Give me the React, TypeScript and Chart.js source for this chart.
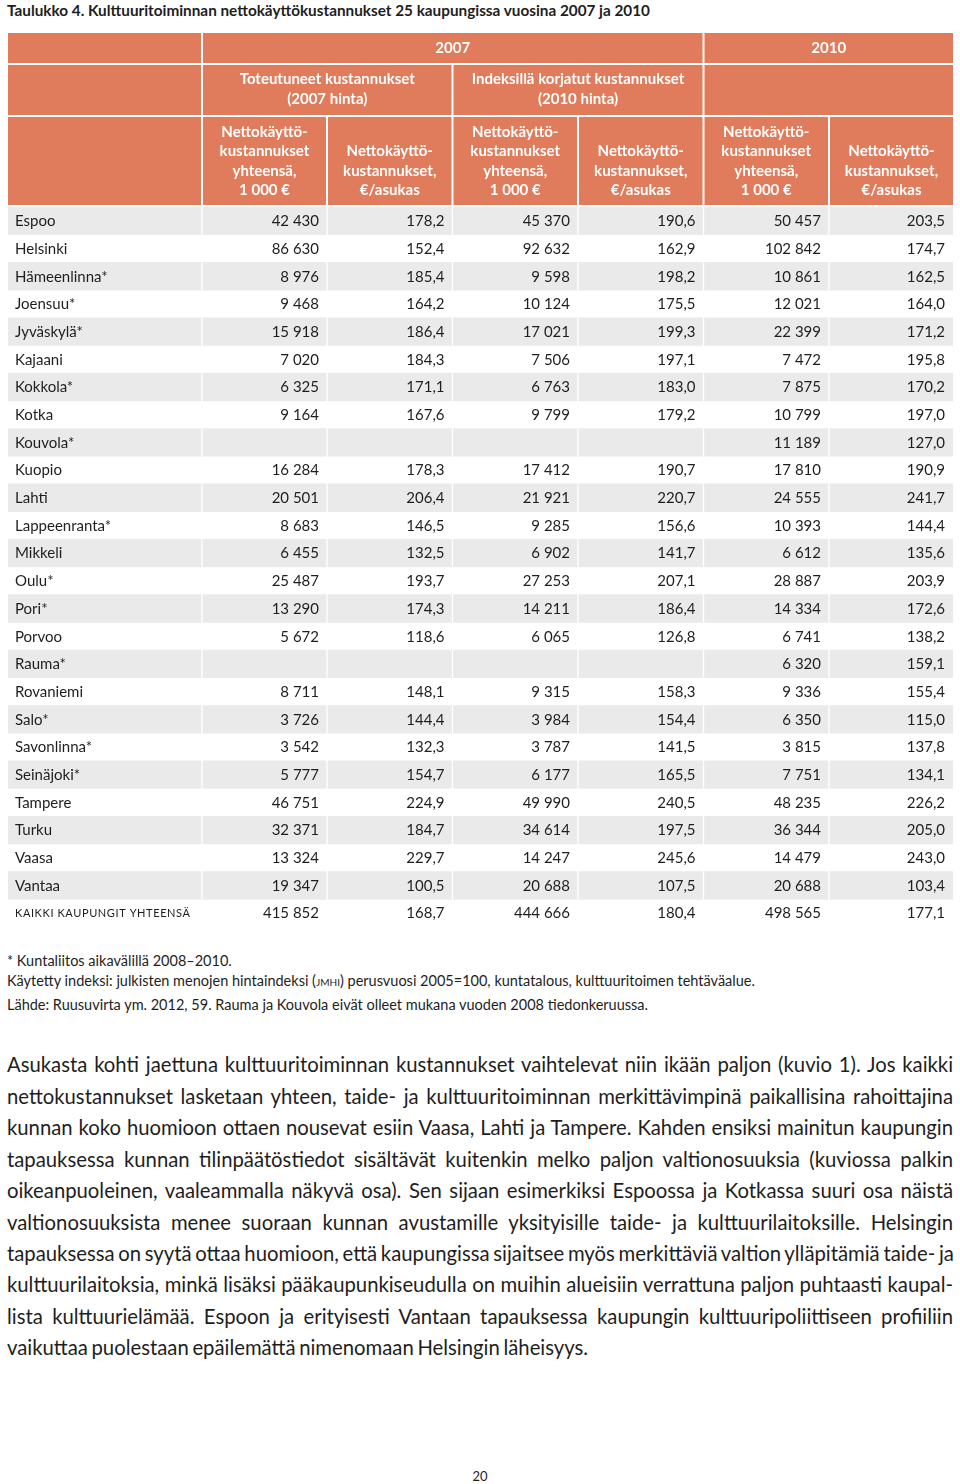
import React, { useEffect, useRef } from "react";
import { Chart, registerables } from "chart.js";

Chart.register(...registerables);

// ---------- data ----------
const cities = [
  "Espoo", "Helsinki", "Hämeenlinna*", "Joensuu*", "Jyväskylä*", "Kajaani", "Kokkola*", "Kotka",
  "Kouvola*", "Kuopio", "Lahti", "Lappeenranta*", "Mikkeli", "Oulu*", "Pori*", "Porvoo", "Rauma*",
  "Rovaniemi", "Salo*", "Savonlinna*", "Seinäjoki*", "Tampere", "Turku", "Vaasa", "Vantaa",
];
const totalLabel = "KAIKKI KAUPUNGIT YHTEENSÄ";

const total2007 = [42430, 86630, 8976, 9468, 15918, 7020, 6325, 9164, null, 16284, 20501, 8683, 6455, 25487, 13290, 5672, null, 8711, 3726, 3542, 5777, 46751, 32371, 13324, 19347];
const perCap2007 = [178.2, 152.4, 185.4, 164.2, 186.4, 184.3, 171.1, 167.6, null, 178.3, 206.4, 146.5, 132.5, 193.7, 174.3, 118.6, null, 148.1, 144.4, 132.3, 154.7, 224.9, 184.7, 229.7, 100.5];
const totalIdx = [45370, 92632, 9598, 10124, 17021, 7506, 6763, 9799, null, 17412, 21921, 9285, 6902, 27253, 14211, 6065, null, 9315, 3984, 3787, 6177, 49990, 34614, 14247, 20688];
const perCapIdx = [190.6, 162.9, 198.2, 175.5, 199.3, 197.1, 183.0, 179.2, null, 190.7, 220.7, 156.6, 141.7, 207.1, 186.4, 126.8, null, 158.3, 154.4, 141.5, 165.5, 240.5, 197.5, 245.6, 107.5];
const total2010 = [50457, 102842, 10861, 12021, 22399, 7472, 7875, 10799, 11189, 17810, 24555, 10393, 6612, 28887, 14334, 6741, 6320, 9336, 6350, 3815, 7751, 48235, 36344, 14479, 20688];
const perCap2010 = [203.5, 174.7, 162.5, 164.0, 171.2, 195.8, 170.2, 197.0, 127.0, 190.9, 241.7, 144.4, 135.6, 203.9, 172.6, 138.2, 159.1, 155.4, 115.0, 137.8, 134.1, 226.2, 205.0, 243.0, 103.4];
const grandTotals = [415852, 168.7, 444666, 180.4, 498565, 177.1];

const yearHeaders = ["2007", "2010"];
const groupHeaders = [["Toteutuneet kustannukset", "(2007 hinta)"], ["Indeksillä korjatut kustannukset", "(2010 hinta)"]];
const colHeaderTotal = ["Nettokäyttö-", "kustannukset", "yhteensä,", "1 000 €"];
const colHeaderPerCap = ["Nettokäyttö-", "kustannukset,", "€/asukas"];

const footnotes = ["* Kuntaliitos aikavälillä 2008–2010."];
const paragraphLines = [
  "Asukasta kohti jaettuna kulttuuritoiminnan kustannukset vaihtelevat niin ikään paljon (kuvio 1). Jos kaikki",
  "nettokustannukset lasketaan yhteen, taide- ja kulttuuritoiminnan merkittävimpinä paikallisina rahoittajina",
  "kunnan koko huomioon ottaen nousevat esiin Vaasa, Lahti ja Tampere. Kahden ensiksi mainitun kaupungin",
  "tapauksessa kunnan tilinpäätöstiedot sisältävät kuitenkin melko paljon valtionosuuksia (kuviossa palkin",
  "oikeanpuoleinen, vaaleammalla näkyvä osa). Sen sijaan esimerkiksi Espoossa ja Kotkassa suuri osa näistä",
  "valtionosuuksista menee suoraan kunnan avustamille yksityisille taide- ja kulttuurilaitoksille. Helsingin",
  "tapauksessa on syytä ottaa huomioon, että kaupungissa sijaitsee myös merkittäviä valtion ylläpitämiä taide- ja",
  "kulttuurilaitoksia, minkä lisäksi pääkaupunkiseudulla on muihin alueisiin verrattuna paljon puhtaasti kaupal-",
  "lista kulttuurielämää. Espoon ja erityisesti Vantaan tapauksessa kaupungin kulttuuripoliittiseen profiiliin",
  "vaikuttaa puolestaan epäilemättä nimenomaan Helsingin läheisyys.",
];

// ---------- layout ----------
const FONT = "Lato, 'Open Sans', sans-serif";
const HEAD_BG = "#E07B5B";
const GRAY = "#EAEAEA";
const TEXT = "#1e1e1e";
const CANVAS_W = 945;
const HEADER_H = 174;
const ROW_H = 27.7;
const colEdges = [0, 194, 319, 444.5, 570, 695.5, 821, 945];
const headRows: [number, number][] = [[0, 30], [32, 82], [84, 172]];

const rowLabels = [...cities, totalLabel];
const columns = [total2007, perCap2007, totalIdx, perCapIdx, total2010, perCap2010];

const fmtInt = (v: number) => String(v).replace(/\B(?=(\d{3})+(?!\d))/g, " ");
const fmtDec = (v: number) => v.toFixed(1).replace(".", ",");
const fmt = (v: number | null, ci: number) => (v == null ? "" : ci % 2 === 0 ? fmtInt(v) : fmtDec(v));

const tablePlugin = {
  id: "tableText",
  beforeDatasetsDraw(chart: any) {
    const ctx = chart.ctx;
    const xs = chart.scales.x;
    const px = (v: number) => xs.getPixelForValue(v);
    const cell = (s: number, e: number, r: number) => {
      const x0 = px(colEdges[s]) + (s > 0 ? 1 : 0);
      const x1 = px(colEdges[e]) - (e < 7 ? 1 : 0);
      const [y0, y1] = headRows[r];
      ctx.fillStyle = HEAD_BG;
      ctx.fillRect(x0, y0, x1 - x0, y1 - y0);
      return { cx: (x0 + x1) / 2 };
    };
    ctx.save();
    cell(0, 1, 0);
    const c07 = cell(1, 5, 0);
    const c10 = cell(5, 7, 0);
    cell(0, 1, 1);
    const g1 = cell(1, 3, 1);
    const g2 = cell(3, 5, 1);
    cell(5, 7, 1);
    const colCenters: number[] = [];
    for (let c = 0; c < 7; c++) colCenters.push(cell(c, c + 1, 2).cx);

    ctx.fillStyle = "#ffffff";
    ctx.font = `bold 15px ${FONT}`;
    ctx.textAlign = "center";
    ctx.textBaseline = "middle";
    ctx.fillText(yearHeaders[0], c07.cx, 15.5);
    ctx.fillText(yearHeaders[1], c10.cx, 15.5);
    [g1, g2].forEach((g, i) => {
      groupHeaders[i].forEach((t, k) => ctx.fillText(t, g.cx, 46.5 + k * 20));
    });
    const lh = 19.6;
    const bottom = 157.5;
    for (let c = 1; c < 7; c++) {
      const lines = c % 2 === 1 ? colHeaderTotal : colHeaderPerCap;
      lines.forEach((t, k) => {
        ctx.fillText(t, colCenters[c], bottom - (lines.length - 1 - k) * lh);
      });
    }
    ctx.restore();
  },
  afterDatasetsDraw(chart: any) {
    const ctx = chart.ctx;
    const xs = chart.scales.x;
    const ys = chart.scales.y;
    ctx.save();
    ctx.fillStyle = TEXT;
    ctx.textBaseline = "middle";
    rowLabels.forEach((label: string, ri: number) => {
      const y = ys.getPixelForValue(ri) + 0.5;
      const isTotal = ri === rowLabels.length - 1;
      ctx.textAlign = "left";
      if (isTotal) {
        ctx.font = `11px ${FONT}`;
        (ctx as any).letterSpacing = "0.6px";
        ctx.fillText(label, xs.getPixelForValue(colEdges[0]) + 7, y);
        (ctx as any).letterSpacing = "0px";
      } else {
        ctx.font = `15px ${FONT}`;
        ctx.fillText(label, xs.getPixelForValue(colEdges[0]) + 7, y);
      }
      ctx.font = `15px ${FONT}`;
      ctx.textAlign = "right";
      for (let ci = 0; ci < 6; ci++) {
        const v = isTotal ? grandTotals[ci] : columns[ci][ri];
        const t = fmt(v as number | null, ci);
        if (t) ctx.fillText(t, xs.getPixelForValue(colEdges[ci + 2]) - 8, y);
      }
    });
    ctx.restore();
  },
};

function TableChart() {
  const ref = useRef<HTMLCanvasElement | null>(null);
  useEffect(() => {
    if (!ref.current) return;
    const datasets = [0, 1, 2, 3, 4, 5, 6].map((c) => ({
      label: "col" + c,
      data: rowLabels.map((_, ri) =>
        ri % 2 === 0 ? [colEdges[c] + (c > 0 ? 1 : 0), colEdges[c + 1] - (c < 6 ? 1 : 0)] : null
      ),
      backgroundColor: GRAY,
      borderWidth: 0,
      grouped: false,
      barPercentage: 1,
      categoryPercentage: 1,
    }));
    const chart = new Chart(ref.current, {
      type: "bar",
      data: { labels: rowLabels, datasets: datasets as any },
      options: {
        indexAxis: "y",
        animation: false,
        responsive: false,
        maintainAspectRatio: false,
        layout: { padding: { top: HEADER_H, left: 0, right: 0, bottom: 0 } },
        scales: {
          x: { type: "linear", min: 0, max: CANVAS_W, display: false },
          y: { type: "category", display: false, offset: true, grid: { display: false } },
        },
        plugins: { legend: { display: false }, tooltip: { enabled: false } },
      } as any,
      plugins: [tablePlugin],
    });
    return () => chart.destroy();
  }, []);
  const h = HEADER_H + ROW_H * rowLabels.length;
  return (
    <canvas
      ref={ref}
      width={CANVAS_W}
      height={Math.round(h)}
      style={{ position: "absolute", left: 8, top: 33, width: CANVAS_W, height: Math.round(h) }}
    />
  );
}

export default function App() {
  const paraTop = 1065 - 15.7;
  const noteStyle: any = { position: "absolute", left: 7, fontSize: 14.5, lineHeight: "18px", whiteSpace: "nowrap" };
  return (
    <div style={{ position: "absolute", left: 0, top: 0, width: 960, height: 1484, fontFamily: FONT, color: TEXT, background: "#fff" }}>
      <div style={{ position: "absolute", left: 7, top: 1, fontSize: 15.3, lineHeight: "18px", fontWeight: 700, whiteSpace: "nowrap" }}>
        Taulukko 4. Kulttuuritoiminnan nettokäyttökustannukset 25 kaupungissa vuosina 2007 ja 2010
      </div>
      <TableChart />
      <div style={{ ...noteStyle, top: 952 }}>{footnotes[0]}</div>
      <div style={{ ...noteStyle, top: 972 }}>
        Käytetty indeksi: julkisten menojen hintaindeksi (<span style={{ fontVariant: "small-caps" }}>jmhi</span>) perusvuosi 2005=100, kuntatalous, kulttuuritoimen tehtäväalue.
      </div>
      <div style={{ ...noteStyle, top: 996 }}>
        Lähde: Ruusuvirta ym. 2012, 59. Rauma ja Kouvola eivät olleet mukana vuoden 2008 tiedonkeruussa.
      </div>
      {paragraphLines.map((line, i) => {
        const last = i === paragraphLines.length - 1;
        return (
          <div
            key={i}
            style={{
              position: "absolute",
              left: 7,
              top: paraTop + i * 31.44,
              width: 946,
              fontSize: 20.3,
              wordSpacing: "-1.5px",
              lineHeight: "31.4px",
              textAlign: last ? "left" : "justify",
              textAlignLast: last ? "left" : "justify",
              whiteSpace: "nowrap",
            } as any}
          >
            {line}
          </div>
        );
      })}
      <div style={{ position: "absolute", left: 0, width: 960, top: 1467, textAlign: "center", fontSize: 13, lineHeight: "18px" }}>20</div>
    </div>
  );
}
